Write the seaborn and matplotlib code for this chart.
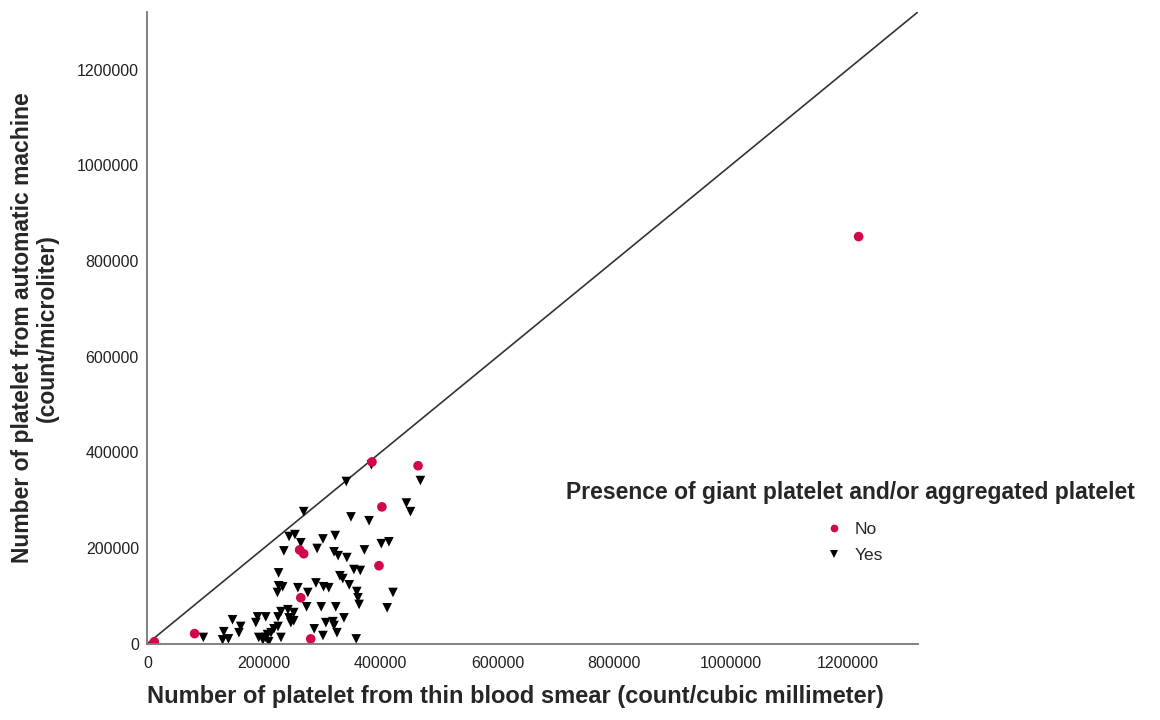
import numpy as np
import pandas as pd
import matplotlib
matplotlib.use("Agg")
import matplotlib.pyplot as plt
import seaborn as sns

sns.set_style("white")
plt.rcParams['font.family'] = ['Liberation Sans', 'DejaVu Sans']

# points without giant/aggregated platelets
no_smear = [12000, 81000, 261000, 268000, 402000, 397000, 263000, 280000, 385000, 464000, 1219000]
no_machine = [4000, 21000, 196000, 188000, 286000, 163000, 96000, 10000, 380000, 372000, 851000]

# points with giant/aggregated platelets
yes_smear = [341000, 468000, 268000, 444000, 451000, 349000, 380000, 243000, 253000, 263000,
             301000, 322000, 401000, 414000, 234000, 291000, 320000, 327000, 342000, 372000,
             354000, 365000, 225000, 330000, 335000, 225000, 232000, 223000, 258000, 289000,
             302000, 311000, 346000, 359000, 361000, 363000, 421000, 411000, 275000, 273000,
             298000, 323000, 337000, 306000, 318000, 320000, 325000, 358000, 301000, 286000,
             229000, 241000, 251000, 243000, 251000, 246000, 224000, 224000, 217000, 212000,
             206000, 203000, 208000, 191000, 198000, 189000, 203000, 186000, 229000, 146000,
             160000, 131000, 129000, 139000, 157000, 96000, 384000]
yes_machine = [339000, 341000, 276000, 294000, 276000, 265000, 257000, 224000, 228000, 211000,
               219000, 226000, 209000, 213000, 194000, 199000, 192000, 184000, 180000, 196000,
               155000, 153000, 148000, 142000, 136000, 121000, 119000, 107000, 117000, 127000,
               119000, 117000, 123000, 109000, 96000, 82000, 107000, 75000, 107000, 77000,
               77000, 77000, 54000, 44000, 46000, 38000, 23000, 10000, 17000, 31000,
               67000, 71000, 65000, 54000, 48000, 44000, 56000, 36000, 31000, 23000,
               19000, 13000, 4000, 13000, 8000, 56000, 56000, 44000, 13000, 50000,
               36000, 25000, 8000, 10000, 23000, 13000, 374000]

axis_max = 1320000

df = pd.DataFrame({
    "smear": yes_smear + no_smear,
    "machine": yes_machine + no_machine,
    "group": ["Yes"] * len(yes_smear) + ["No"] * len(no_smear),
})

fig = plt.figure(figsize=(11.6, 7.2), dpi=100)
ax = fig.add_axes([0.127, 0.106, 0.664, 0.877])

ax.plot([0, axis_max], [0, axis_max], color="#333333", lw=1.2, zorder=1)

sns.scatterplot(data=df, x="smear", y="machine", hue="group", style="group",
                hue_order=["No", "Yes"], style_order=["No", "Yes"],
                palette={"No": "#d3064a", "Yes": "black"},
                markers={"No": "o", "Yes": "v"}, s=48, edgecolor="none",
                linewidth=0, ax=ax, zorder=2)

ax.set_xlim(0, axis_max)
ax.set_ylim(0, axis_max)
ax.set_xticks(np.arange(0, 1200001, 200000))
ax.set_yticks(np.arange(0, 1200001, 200000))
ax.ticklabel_format(style="plain", useOffset=False)
ax.tick_params(length=0, labelsize=11.5, labelcolor="#222222")
ax.tick_params(axis="x", pad=9)
ax.tick_params(axis="y", pad=6)

for side in ["top", "right"]:
    ax.spines[side].set_visible(False)
for side in ["left", "bottom"]:
    ax.spines[side].set_color("#777777")
    ax.spines[side].set_linewidth(1.3)

ax.set_xlabel("Number of platelet from thin blood smear (count/cubic millimeter)",
              fontsize=17, fontweight="bold")
ax.set_ylabel("Number of platelet from automatic machine\n(count/microliter)",
              fontsize=16.5, fontweight="bold", linespacing=1.1)
ax.xaxis.set_label_coords(0.478, -0.065)
ax.yaxis.set_label_coords(-0.115, 0.5)

handles, labels = ax.get_legend_handles_labels()
leg = ax.legend(handles, labels, loc="center", bbox_to_anchor=(850 / 1160, 1 - 522 / 720),
                bbox_transform=fig.transFigure, frameon=False,
                title="Presence of giant platelet and/or aggregated platelet",
                title_fontproperties={"size": 16.5, "weight": "bold"},
                fontsize=12.5, handletextpad=0.2, labelspacing=0.6, markerscale=0.8)
leg._legend_box.sep = 13

fig.savefig("out.png", dpi=100)
